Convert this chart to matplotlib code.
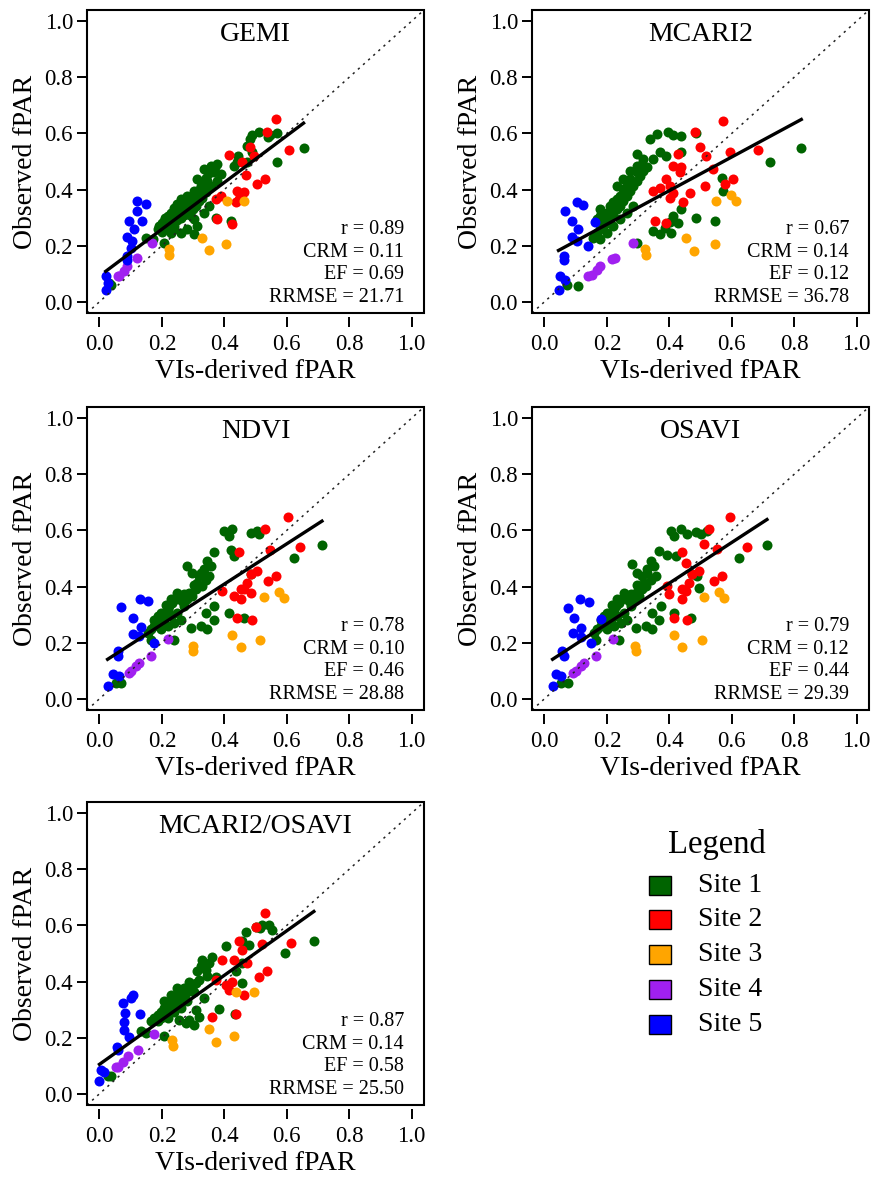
import numpy as np
import matplotlib
matplotlib.use("Agg")
from matplotlib import pyplot as plt
from matplotlib.patches import Rectangle

plt.rcParams['font.family'] = ['Liberation Serif', 'DejaVu Serif']

# ---- data: (VIs-derived fPAR, observed fPAR) per site ----
gemi_s1 = [(0.489,0.593),(0.510,0.605),(0.547,0.593),(0.569,0.602),(0.483,0.581),(0.541,0.587),(0.654,0.547),
           (0.569,0.499),(0.473,0.557),(0.489,0.533),(0.445,0.521),(0.473,0.500),(0.441,0.497),
           (0.377,0.491),(0.356,0.485),(0.335,0.473),(0.367,0.461),(0.313,0.437),(0.345,0.431),(0.324,0.413),
           (0.303,0.395),(0.281,0.377),(0.260,0.366),(0.250,0.348),(0.239,0.336),(0.228,0.318),(0.218,0.306),
           (0.207,0.288),(0.196,0.270),(0.186,0.258),(0.250,0.318),(0.271,0.342),(0.292,0.366),(0.313,0.377),
           (0.335,0.401),(0.356,0.413),(0.377,0.431),(0.388,0.455),(0.431,0.485),
           (0.351,0.342),(0.335,0.318),(0.303,0.294),(0.313,0.270),(0.281,0.258),(0.260,0.246),(0.303,0.240),
           (0.372,0.300),(0.420,0.288),(0.239,0.258),(0.228,0.246),(0.207,0.210),(0.148,0.228),(0.170,0.222),
           (0.036,0.061),(0.031,0.067),
           (0.20,0.28),(0.21,0.30),(0.22,0.29),(0.23,0.31),(0.24,0.30),(0.25,0.33),(0.26,0.32),(0.27,0.35),
           (0.28,0.34),(0.29,0.36),(0.30,0.35),(0.31,0.38),(0.32,0.40),(0.33,0.42),(0.34,0.44),(0.35,0.46),
           (0.36,0.47),(0.37,0.48),(0.25,0.29),(0.27,0.31),(0.24,0.27),(0.22,0.26),(0.20,0.25),(0.23,0.28),
           (0.26,0.30),(0.28,0.32),(0.30,0.33),(0.32,0.36),(0.29,0.31),(0.31,0.34),(0.33,0.37),(0.34,0.39),
           (0.19,0.27),(0.21,0.27)]
gemi_s2 = [(0.567,0.650),(0.537,0.605),(0.483,0.551),(0.606,0.541),(0.414,0.523),(0.494,0.521),(0.457,0.497),
           (0.468,0.452),(0.531,0.437),(0.505,0.419),(0.441,0.395),(0.462,0.390),(0.388,0.378),(0.372,0.366),
           (0.446,0.366),(0.436,0.354),(0.377,0.294),(0.425,0.276)]
gemi_s3 = [(0.409,0.360),(0.462,0.360),(0.329,0.228),(0.404,0.207),(0.350,0.184),(0.223,0.189),(0.223,0.168)]
gemi_s4 = [(0.169,0.210),(0.121,0.157),(0.089,0.127),(0.079,0.109),(0.063,0.093),(0.058,0.091)]
gemi_s5 = [(0.121,0.360),(0.148,0.348),(0.119,0.324),(0.095,0.288),(0.137,0.288),(0.111,0.258),(0.089,0.232),
           (0.105,0.216),(0.102,0.192),(0.089,0.162),(0.087,0.150),(0.020,0.091),(0.026,0.067),(0.020,0.043)]

mcari2_s1 = [(0.338,0.581),(0.359,0.599),(0.397,0.604),(0.413,0.593),(0.439,0.590),(0.487,0.601),(0.296,0.527),
             (0.349,0.509),(0.370,0.533),(0.391,0.521),(0.439,0.533),(0.722,0.500),(0.823,0.548),(0.570,0.440),
             (0.572,0.395),(0.546,0.288),(0.487,0.300),(0.439,0.330),(0.413,0.306),(0.402,0.284),(0.429,0.282),
             (0.349,0.252),(0.370,0.240),(0.386,0.264),(0.407,0.246),(0.296,0.210),(0.109,0.057),(0.072,0.061),
             (0.157,0.228),(0.168,0.246),(0.178,0.258),(0.189,0.270),(0.200,0.282),(0.210,0.300),(0.221,0.318),
             (0.232,0.330),(0.242,0.342),(0.253,0.360),(0.264,0.377),(0.274,0.395),(0.285,0.413),(0.296,0.431),
             (0.306,0.449),(0.317,0.467),(0.328,0.479),(0.178,0.306),(0.189,0.318),(0.210,0.342),(0.232,0.366),
             (0.253,0.401),(0.274,0.437),(0.296,0.461),(0.178,0.222),(0.200,0.246),(0.221,0.270),(0.242,0.294),
             (0.264,0.318),(0.285,0.342),(0.232,0.413),(0.253,0.437),(0.274,0.467),(0.312,0.491),(0.178,0.330),
             (0.168,0.294),(0.200,0.318),(0.221,0.354),(0.242,0.377),(0.264,0.413),(0.296,0.485),(0.317,0.509),
             (0.189,0.294),(0.210,0.318),(0.232,0.342),(0.253,0.377),(0.274,0.413)]
mcari2_s2 = [(0.573,0.646),(0.482,0.604),(0.498,0.551),(0.594,0.533),(0.429,0.527),(0.519,0.521),(0.413,0.485),
             (0.439,0.479),(0.541,0.473),(0.684,0.542),(0.604,0.437),(0.578,0.419),(0.434,0.461),(0.391,0.437),
             (0.402,0.413),(0.370,0.407),(0.349,0.395),(0.413,0.389),(0.466,0.389),(0.514,0.413),(0.445,0.354),
             (0.354,0.288),(0.391,0.280),(0.402,0.371)]
mcari2_s3 = [(0.549,0.360),(0.599,0.380),(0.615,0.360),(0.453,0.228),(0.546,0.207),(0.480,0.180),(0.322,0.189),
             (0.325,0.168)]
mcari2_s4 = [(0.285,0.210),(0.226,0.157),(0.216,0.153),(0.178,0.127),(0.168,0.115),(0.152,0.097),(0.141,0.093)]
mcari2_s5 = [(0.067,0.324),(0.104,0.356),(0.123,0.344),(0.088,0.288),(0.106,0.258),(0.088,0.232),(0.104,0.216),
             (0.138,0.198),(0.163,0.284),(0.061,0.162),(0.061,0.148),(0.051,0.091),(0.067,0.079),(0.045,0.043)]

ndvi_s1 = [(0.399,0.598),(0.425,0.604),(0.415,0.580),(0.484,0.592),(0.505,0.598),(0.510,0.586),(0.367,0.523),
           (0.420,0.532),(0.431,0.508),(0.484,0.443),(0.622,0.503),(0.713,0.548),(0.281,0.473),(0.297,0.449),
           (0.345,0.491),(0.356,0.473),(0.335,0.461),(0.319,0.437),(0.340,0.425),(0.329,0.401),(0.303,0.407),
           (0.415,0.306),(0.462,0.288),(0.367,0.330),(0.340,0.306),(0.367,0.282),(0.292,0.253),(0.324,0.258),
           (0.345,0.247),(0.239,0.211),(0.164,0.211),(0.068,0.056),(0.052,0.058),
           (0.154,0.235),(0.164,0.247),(0.175,0.258),(0.186,0.270),(0.196,0.282),(0.202,0.294),(0.207,0.306),
           (0.218,0.318),(0.223,0.330),(0.234,0.342),(0.244,0.354),(0.255,0.366),(0.271,0.372),(0.287,0.378),
           (0.297,0.366),(0.196,0.306),(0.212,0.336),(0.228,0.354),(0.250,0.378),(0.186,0.294),(0.175,0.282),
           (0.207,0.282),(0.228,0.294),(0.250,0.306),(0.271,0.330),(0.281,0.354),(0.260,0.282),(0.239,0.270),
           (0.218,0.258),(0.196,0.247),(0.313,0.413),(0.324,0.449),(0.351,0.437),(0.308,0.390),(0.265,0.350)]
ndvi_s2 = [(0.603,0.649),(0.532,0.604),(0.447,0.523),(0.548,0.532),(0.644,0.542),(0.505,0.455),(0.484,0.443),
           (0.567,0.439),(0.539,0.419),(0.473,0.413),(0.452,0.392),(0.393,0.383),(0.430,0.366),(0.462,0.390),
           (0.484,0.378),(0.441,0.288),(0.489,0.280),(0.452,0.354)]
ndvi_s3 = [(0.526,0.362),(0.574,0.380),(0.590,0.360),(0.425,0.229),(0.516,0.211),(0.454,0.183),(0.301,0.189),
           (0.301,0.169)]
ndvi_s4 = [(0.218,0.213),(0.164,0.154),(0.127,0.128),(0.116,0.116),(0.100,0.098),(0.095,0.092)]
ndvi_s5 = [(0.068,0.328),(0.130,0.357),(0.156,0.348),(0.109,0.288),(0.132,0.255),(0.106,0.232),(0.127,0.223),
           (0.175,0.199),(0.058,0.169),(0.060,0.151),(0.042,0.089),(0.063,0.080),(0.026,0.047)]

osavi_s1 = [(0.405,0.598),(0.437,0.606),(0.415,0.580),(0.458,0.589),(0.484,0.594),(0.500,0.586),(0.522,0.598),
            (0.367,0.526),(0.394,0.514),(0.421,0.508),(0.474,0.443),(0.623,0.503),(0.713,0.548),(0.282,0.479),
            (0.298,0.449),(0.341,0.491),(0.351,0.473),(0.330,0.461),(0.314,0.437),(0.341,0.425),(0.325,0.401),
            (0.298,0.407),(0.415,0.306),(0.468,0.288),(0.373,0.330),(0.346,0.306),(0.367,0.282),(0.293,0.253),
            (0.325,0.258),(0.346,0.247),(0.239,0.211),(0.165,0.211),(0.053,0.058),(0.074,0.056),(0.495,0.395),
            (0.490,0.437),
            (0.159,0.235),(0.169,0.247),(0.180,0.258),(0.191,0.270),(0.201,0.282),(0.207,0.294),(0.212,0.306),
            (0.223,0.318),(0.228,0.330),(0.239,0.342),(0.249,0.354),(0.260,0.366),(0.276,0.372),(0.292,0.378),
            (0.302,0.366),(0.201,0.306),(0.217,0.336),(0.233,0.354),(0.255,0.378),(0.191,0.294),(0.180,0.282),
            (0.212,0.282),(0.233,0.294),(0.255,0.306),(0.276,0.330),(0.286,0.354),(0.265,0.282),(0.244,0.270),
            (0.223,0.258),(0.201,0.247),(0.319,0.413),(0.330,0.449),(0.356,0.437),(0.313,0.390),(0.270,0.350)]
osavi_s2 = [(0.596,0.649),(0.527,0.604),(0.440,0.523),(0.511,0.550),(0.554,0.535),(0.649,0.542),(0.495,0.455),
            (0.452,0.485),(0.474,0.443),(0.570,0.439),(0.543,0.419),(0.463,0.413),(0.442,0.390),(0.394,0.401),
            (0.399,0.372),(0.452,0.383),(0.442,0.354),(0.415,0.288),(0.458,0.280)]
osavi_s3 = [(0.511,0.363),(0.559,0.380),(0.575,0.360),(0.415,0.229),(0.504,0.211),(0.442,0.183),(0.291,0.189),
            (0.293,0.169)]
osavi_s4 = [(0.218,0.213),(0.165,0.154),(0.128,0.128),(0.117,0.116),(0.101,0.098),(0.090,0.092)]
osavi_s5 = [(0.074,0.324),(0.114,0.356),(0.144,0.345),(0.096,0.288),(0.117,0.253),(0.090,0.235),(0.117,0.220),
            (0.149,0.199),(0.181,0.286),(0.056,0.169),(0.061,0.151),(0.037,0.089),(0.053,0.080),(0.026,0.047)]

mo_s1 = [(0.468,0.578),(0.500,0.596),(0.522,0.602),(0.543,0.602),(0.554,0.584),(0.516,0.590),(0.458,0.543),
         (0.479,0.531),(0.405,0.525),(0.596,0.501),(0.687,0.546),(0.458,0.465),(0.437,0.436),(0.458,0.394),
         (0.330,0.477),(0.351,0.465),(0.341,0.442),(0.362,0.489),(0.314,0.436),(0.373,0.418),(0.319,0.406),
         (0.298,0.382),(0.335,0.341),(0.309,0.299),(0.319,0.275),(0.287,0.264),(0.277,0.252),(0.303,0.246),
         (0.383,0.303),(0.434,0.285),(0.255,0.264),(0.208,0.206),(0.149,0.216),(0.133,0.222),(0.037,0.062),
         (0.027,0.064),
         (0.165,0.258),(0.176,0.270),(0.186,0.281),(0.197,0.293),(0.208,0.305),(0.218,0.317),(0.229,0.329),
         (0.240,0.341),(0.250,0.353),(0.261,0.364),(0.271,0.376),(0.282,0.364),(0.293,0.376),(0.303,0.364),
         (0.186,0.258),(0.197,0.270),(0.208,0.281),(0.218,0.293),(0.229,0.305),(0.240,0.317),(0.250,0.329),
         (0.261,0.341),(0.271,0.353),(0.208,0.329),(0.229,0.353),(0.250,0.376),(0.218,0.270),(0.240,0.293),
         (0.261,0.305),(0.282,0.329),(0.325,0.455),(0.346,0.420),(0.309,0.395),(0.288,0.400)]
mo_s2 = [(0.530,0.646),(0.500,0.596),(0.447,0.546),(0.520,0.534),(0.615,0.539),(0.458,0.511),(0.392,0.477),
         (0.431,0.477),(0.474,0.465),(0.538,0.436),(0.511,0.416),(0.373,0.406),(0.405,0.388),(0.426,0.400),
         (0.463,0.353),(0.362,0.275),(0.437,0.285),(0.415,0.370)]
mo_s3 = [(0.437,0.364),(0.495,0.364),(0.351,0.230),(0.431,0.206),(0.375,0.183),(0.234,0.190),(0.236,0.171)]
mo_s4 = [(0.176,0.212),(0.122,0.157),(0.090,0.133),(0.074,0.115),(0.058,0.097),(0.053,0.095)]
mo_s5 = [(0.074,0.325),(0.101,0.341),(0.109,0.353),(0.083,0.287),(0.130,0.285),(0.080,0.255),(0.080,0.228),
         (0.096,0.204),(0.055,0.166),(0.058,0.157),(0.005,0.085),(0.013,0.076),(0.000,0.044)]

titles = ["GEMI", "MCARI2", "NDVI", "OSAVI", "MCARI2/OSAVI"]
panel_data = [[gemi_s1, gemi_s2, gemi_s3, gemi_s4, gemi_s5],
              [mcari2_s1, mcari2_s2, mcari2_s3, mcari2_s4, mcari2_s5],
              [ndvi_s1, ndvi_s2, ndvi_s3, ndvi_s4, ndvi_s5],
              [osavi_s1, osavi_s2, osavi_s3, osavi_s4, osavi_s5],
              [mo_s1, mo_s2, mo_s3, mo_s4, mo_s5]]
# regression lines (intercept, slope)
fit_intercept = [0.092, 0.156, 0.122, 0.122, 0.105]
fit_slope = [0.833, 0.600, 0.717, 0.725, 0.793]
stat_r = ["0.89", "0.67", "0.78", "0.79", "0.87"]
stat_crm = ["0.11", "0.14", "0.10", "0.12", "0.14"]
stat_ef = ["0.69", "0.12", "0.46", "0.44", "0.58"]
stat_rrmse = ["21.71", "36.78", "28.88", "29.39", "25.50"]

site_names = ["Site 1", "Site 2", "Site 3", "Site 4", "Site 5"]
site_colors = ["#006400", "#FF0000", "#FFA500", "#A020F0", "#0000FF"]

W, H = 875, 1177
fig = plt.figure(figsize=(W/100, H/100), dpi=100)

# box positions in pixels (left, top)
boxes = [(87, 10), (532, 10), (87, 407), (532, 407), (87, 802)]
bw, bh = 337, 303

for i, (left, top) in enumerate(boxes):
    ax = fig.add_axes([left/W, 1 - (top+bh)/H, bw/W, bh/H])
    for k, pts in enumerate(panel_data[i]):
        pts = np.array(pts)
        ax.scatter(pts[:, 0], pts[:, 1], s=52, color=site_colors[k], linewidths=0, zorder=2)

    allx = np.concatenate([np.array(p)[:, 0] for p in panel_data[i]])
    xx = np.array([allx.min(), allx.max()])
    ax.plot(xx, fit_intercept[i] + fit_slope[i]*xx, color='black', lw=2.4, zorder=4)
    ax.plot([-0.04, 1.04], [-0.04, 1.04], color='#222222', lw=1.1, ls=(0, (1.5, 3)), zorder=3)

    ax.set_xlim(-0.04, 1.04)
    ax.set_ylim(-0.04, 1.04)
    ticks = np.arange(0, 1.01, 0.2)
    ax.set_xticks(ticks)
    ax.set_yticks(ticks)
    ax.set_xticklabels(["%.1f" % t for t in ticks])
    ax.set_yticklabels(["%.1f" % t for t in ticks])
    ax.tick_params(length=7, width=1.4, labelsize=16.5, color='black')
    ax.tick_params(axis='x', pad=5)
    ax.tick_params(axis='y', pad=3)
    for sp in ax.spines.values():
        sp.set_color('none')
    ax.spines['bottom'].set_position(('outward', 3))
    ax.add_patch(Rectangle((0, 0), 1, 1, transform=ax.transAxes, fill=False,
                           lw=1.5, edgecolor='black', clip_on=False, zorder=5))

    ax.set_xlabel("VIs-derived fPAR", fontsize=20, labelpad=3)
    ax.set_ylabel("Observed fPAR", fontsize=20, labelpad=5)
    ax.text(0.5, 0.92, titles[i], transform=ax.transAxes, ha='center', va='center', fontsize=20)

    lines = ["r = " + stat_r[i], "CRM = " + stat_crm[i], "EF = " + stat_ef[i], "RRMSE = " + stat_rrmse[i]]
    for j, s in enumerate(lines):
        ax.text(0.941, 0.277 - j*0.0757, s, transform=ax.transAxes, ha='right', va='center', fontsize=14.5)

# legend
fig.text(717/W, 1 - 845/H, "Legend", ha='center', va='center', fontsize=23.5)
for k in range(5):
    cy = 885 + k*34.8
    fig.add_artist(Rectangle((649/W, 1 - (cy+9.5)/H), 22/W, 19/H, transform=fig.transFigure,
                             facecolor=site_colors[k], edgecolor='black', lw=1.0))
    fig.text(698/W, 1 - cy/H, site_names[k], ha='left', va='center', fontsize=20)

fig.savefig("out.png", dpi=100)
